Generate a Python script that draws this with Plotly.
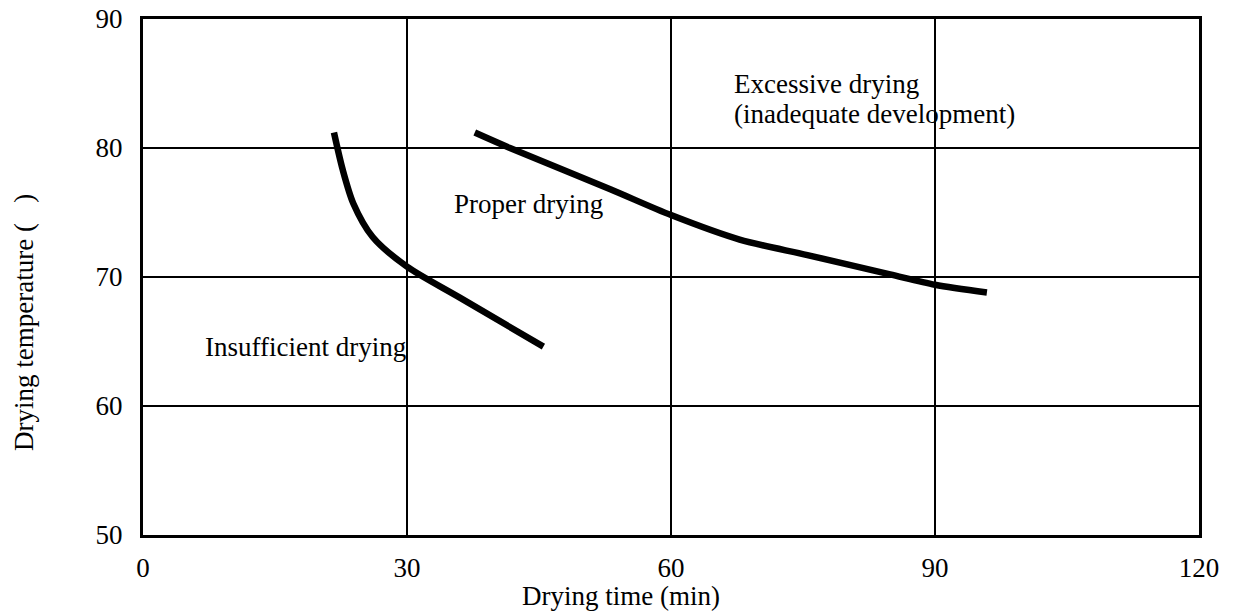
import plotly.graph_objects as go

# Insufficient / proper boundary
curve1_x = [21.7, 22.7, 23.9, 26.1, 30.0, 36.0, 45.5]
curve1_y = [81.2, 78.3, 75.7, 73.1, 70.8, 68.4, 64.6]
# Proper / excessive boundary
curve2_x = [37.7, 41.7, 53.1, 60.0, 67.8, 75.5, 84.9, 90.0, 95.9]
curve2_y = [81.2, 80.0, 76.8, 74.8, 72.9, 71.7, 70.2, 69.4, 68.8]

x_ticks = [0, 30, 60, 90, 120]
y_ticks = [50, 60, 70, 80, 90]

labels = ["Insufficient drying", "Proper drying", "Excessive drying", "(inadequate development)"]
label_x = [18.5, 43.75, 66.9, 66.9]
label_y = [64.6, 75.65, 85.0, 82.6]
label_anchor = ["center", "center", "left", "left"]

x_title = "Drying time (min)"
y_title = "Drying temperature (   )"

FONT = "Liberation Serif, Times New Roman, serif"
FS = 27

fig = go.Figure()
for xs, ys in [(curve1_x, curve1_y), (curve2_x, curve2_y)]:
    fig.add_trace(go.Scatter(x=xs, y=ys, mode="lines",
                             line=dict(color="black", width=6.5, shape="spline", smoothing=0.8),
                             showlegend=False, hoverinfo="skip"))

for t, x, y, a in zip(labels, label_x, label_y, label_anchor):
    fig.add_annotation(x=x, y=y, text=t, showarrow=False, xanchor=a, yanchor="middle",
                       font=dict(family=FONT, size=FS, color="black"))

fig.add_annotation(xref="paper", yref="paper", x=0.4527, y=-0.1182, text=x_title,
                   showarrow=False, xanchor="center", yanchor="middle",
                   font=dict(family=FONT, size=FS, color="black"))
fig.add_annotation(xref="paper", yref="paper", x=-0.1127, y=0.4128, text=y_title,
                   showarrow=False, xanchor="center", yanchor="middle", textangle=-90,
                   font=dict(family=FONT, size=FS, color="black"))

fig.update_layout(
    width=1239, height=612,
    margin=dict(l=143, r=40, t=19, b=77),
    paper_bgcolor="white", plot_bgcolor="white",
    font=dict(family=FONT, size=FS, color="black"),
    xaxis=dict(range=[0, 120], tickvals=x_ticks, showgrid=True, gridcolor="black", gridwidth=2,
               showline=True, linecolor="black", linewidth=3, mirror=True, zeroline=False,
               ticks="", ticklabelstandoff=7, automargin=False,
               tickfont=dict(family=FONT, size=FS)),
    yaxis=dict(range=[50, 90], tickvals=y_ticks, showgrid=True, gridcolor="black", gridwidth=2,
               showline=True, linecolor="black", linewidth=3, mirror=True, zeroline=False,
               ticks="", ticklabelstandoff=12, automargin=False,
               tickfont=dict(family=FONT, size=FS)),
)

fig.write_html("out.html", config={"displayModeBar": False},
               post_script="document.body.style.margin='0';document.body.style.overflow='hidden';")
